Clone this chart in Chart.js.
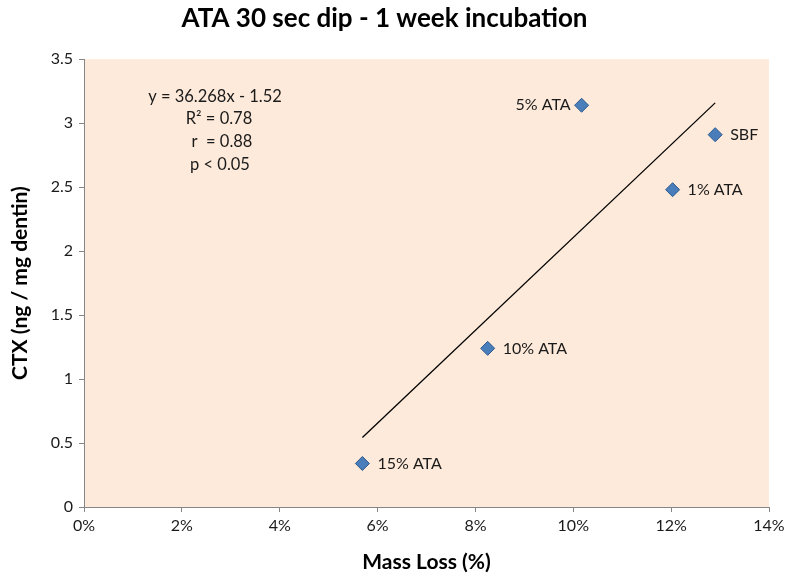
<!DOCTYPE html>
<html>
<head>
<meta charset="utf-8">
<script src="https://cdn.jsdelivr.net/npm/chart.js@4"></script>
<style>
  html, body { margin: 0; padding: 0; background: #fff; }
  #wrap { width: 800px; height: 581px; }
</style>
</head>
<body>
<div id="wrap"><canvas id="grafico"></canvas></div>
<script>
// dados
var rotulos = ['15% ATA', '10% ATA', '5% ATA', '1% ATA', 'SBF'];
var perdaMassa = [0.0569, 0.0825, 0.1017, 0.1203, 0.1290];
var ctx_ng = [0.34, 1.24, 3.14, 2.48, 2.91];
var eqTexto = ['y = 36.268x - 1.52', 'R² = 0.78', 'r  = 0.88', 'p < 0.05'];
var inclinacao = 36.268;
var intercepto = -1.52;

var pontos = perdaMassa.map(function (x, i) { return { x: x, y: ctx_ng[i] }; });
var xMin = Math.min.apply(null, perdaMassa);
var xMax = Math.max.apply(null, perdaMassa);
var linha = [
  { x: xMin, y: inclinacao * xMin + intercepto },
  { x: xMax, y: inclinacao * xMax + intercepto }
];

var fonte = 'Lato, "Open Sans", sans-serif';

// fundo da area do grafico
var fundoPlugin = {
  id: 'fundo',
  beforeDraw: function (chart) {
    var a = chart.chartArea, c = chart.ctx;
    c.save();
    c.fillStyle = '#FDEADA';
    c.fillRect(a.left, a.top, a.right - a.left, a.bottom - a.top);
    c.restore();
  }
};

// rotulos dos pontos e equacao
var textoPlugin = {
  id: 'textos',
  afterDatasetsDraw: function (chart) {
    var c = chart.ctx;
    var meta = chart.getDatasetMeta(1);
    c.save();
    c.font = '16px ' + fonte;
    c.fillStyle = '#1a1a1a';
    c.textBaseline = 'middle';
    meta.data.forEach(function (p, i) {
      if (rotulos[i] === '5% ATA') {
        c.textAlign = 'right';
        c.fillText(rotulos[i], p.x - 11, p.y);
      } else {
        c.textAlign = 'left';
        c.fillText(rotulos[i], p.x + 15, p.y);
      }
    });
    var a = chart.chartArea;
    c.textAlign = 'center';
    c.font = '16.5px ' + fonte;
    var cx = a.left + 131;
    var y0 = a.top + 37;
    var desloc = [0, 4, 7, 5];
    eqTexto.forEach(function (t, i) {
      c.fillText(t, cx + desloc[i], y0 + i * 22.7);
    });
    c.restore();
  }
};

new Chart(document.getElementById('grafico').getContext('2d'), {
  type: 'scatter',
  data: {
    datasets: [{
      type: 'line',
      data: linha,
      borderColor: '#000',
      borderWidth: 1.3,
      pointRadius: 0,
      fill: false
    }, {
      data: pontos,
      pointStyle: 'rectRot',
      pointRadius: 7,
      backgroundColor: '#4A7EBB',
      borderColor: '#2C5A8E',
      borderWidth: 1
    }]
  },
  options: {
    responsive: true,
    maintainAspectRatio: false,
    animation: false,
    layout: { padding: { left: 0, right: 31, top: 0, bottom: 0 } },
    plugins: {
      legend: { display: false },
      tooltip: { enabled: false },
      title: {
        display: true,
        text: 'ATA 30 sec dip - 1 week incubation',
        color: '#000',
        font: { family: fonte, size: 26, weight: 'bold', lineHeight: 1.2 },
        padding: { top: 3, bottom: 25 }
      }
    },
    scales: {
      x: {
        type: 'linear',
        min: 0,
        max: 0.14,
        ticks: {
          stepSize: 0.02,
          color: '#1a1a1a',
          font: { family: fonte, size: 16 },
          padding: 4,
          callback: function (v) { return Math.round(v * 100) + '%'; }
        },
        grid: { drawOnChartArea: false, drawTicks: true, tickLength: 5, color: '#868686' },
        border: { color: '#868686' },
        title: {
          display: true,
          text: 'Mass Loss (%)',
          color: '#000',
          font: { family: fonte, size: 21, weight: 'bold', lineHeight: 1.2 },
          padding: { top: 4, bottom: 6 }
        },
        afterFit: function (s) { s.height = 74; }
      },
      y: {
        min: 0,
        max: 3.5,
        ticks: {
          stepSize: 0.5,
          color: '#1a1a1a',
          font: { family: fonte, size: 16 },
          padding: 6,
          callback: function (v) { return String(Math.round(v * 10) / 10); }
        },
        grid: { drawOnChartArea: false, drawTicks: true, tickLength: 5, color: '#868686' },
        border: { color: '#868686' },
        title: {
          display: true,
          text: 'CTX (ng / mg dentin)',
          color: '#000',
          font: { family: fonte, size: 21, weight: 'bold', lineHeight: 1.2 },
          padding: { top: 8, bottom: 0 }
        },
        afterFit: function (s) { s.width = 84; }
      }
    }
  },
  plugins: [fundoPlugin, textoPlugin]
});
</script>
</body>
</html>
